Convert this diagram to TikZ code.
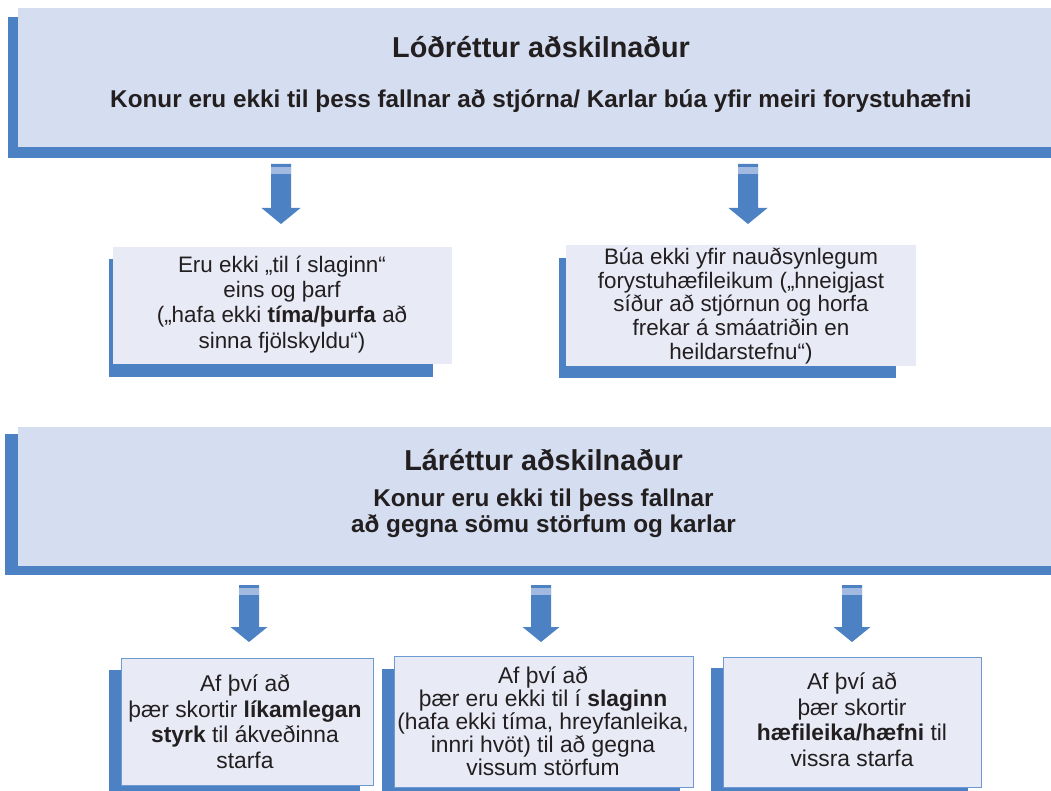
\documentclass[tikz,border=0pt]{standalone}
\usepackage{fontspec}
\setmainfont{Liberation Sans}
\definecolor{shblue}{HTML}{4C82C4}
\definecolor{bigfill}{HTML}{D5DEF0}
\definecolor{smfill}{HTML}{E8EAF6}
\definecolor{edgeblue}{HTML}{6E9AD3}
\definecolor{bandblue}{HTML}{A3BAE0}
\definecolor{ink}{HTML}{231F20}
% block arrow: x, top, head start, tip, head half width
\newcommand\bkarrow[5]{%
  \fill[shblue] (#1-10,#2) -- (#1+10,#2) -- (#1+10,#3) -- (#1+#5,#3) -- (#1,#4) -- (#1-#5,#3) -- (#1-10,#3) -- cycle;
  \fill[bandblue] (#1-10,#2+3) rectangle (#1+10,#2+10);}
\begin{document}
\begin{tikzpicture}[x=1pt,y=-1pt,
  every node/.style={inner sep=0pt,text=ink},
  shadowbox/.style={fill=shblue},
  bigbox/.style={fill=bigfill},
  midbox/.style={fill=smfill},
  lowbox/.style={fill=smfill,draw=edgeblue,line width=1pt},
  titlefont/.style={font=\bfseries\fontsize{28.8}{34}\selectfont},
  subfont/.style={font=\bfseries\fontsize{24.3}{26}\selectfont,align=center},
  bodymid/.style={font=\fontsize{22.4}{25.3}\selectfont,align=center},
  bodymidr/.style={font=\fontsize{22.4}{23.8}\selectfont,align=center},
  bodylow/.style={font=\fontsize{22.8}{25.8}\selectfont,align=center},
  bodylowb/.style={font=\fontsize{22.8}{23}\selectfont,align=center}]
\useasboundingbox (0,0) rectangle (1051,791);
\fill[white] (0,0) rectangle (1051,791);

% top box
\fill[shadowbox] (8,17) rectangle (1051,158);
\fill[bigbox] (18,8) rectangle (1051,147);
\node[titlefont,anchor=base] (t1) at (541,58) {Lóðréttur aðskilnaður};
\node[subfont,anchor=base] (s1) at (541,108) {Konur eru ekki til þess fallnar að stjórna/ Karlar búa yfir meiri forystuhæfni};

% arrows from top box
\bkarrow{281}{164}{208}{224}{19.5}
\bkarrow{748}{164}{208}{224}{19.5}

% middle boxes
\fill[shadowbox] (109,259) rectangle (433,377);
\fill[midbox] (113,247) rectangle (452,364);
\node[bodymid,anchor=north] (m1) at (282,272-22.4) {\rule{0pt}{22.4pt}Eru ekki „til í slaginn“\\eins og þarf\\(„hafa ekki \textbf{tíma/þurfa} að\\sinna fjölskyldu“)};

\fill[shadowbox] (559,258) rectangle (896,378);
\fill[midbox] (566,245) rectangle (916,366);
\node[bodymidr,anchor=north] (m2) at (741,264-22.4) {\rule{0pt}{22.4pt}Búa ekki yfir nauðsynlegum\\forystuhæfileikum („hneigjast\\síður að stjórnun og horfa\\frekar á smáatriðin en\\heildarstefnu“)};

% second big box
\fill[shadowbox] (5,434) rectangle (1051,575);
\fill[bigbox] (18,427) rectangle (1051,566);
\node[titlefont,anchor=base] (t2) at (543.5,470) {Láréttur aðskilnaður};
\node[subfont,anchor=north] (s2) at (543.5,506-24.3) {\rule{0pt}{24.3pt}Konur eru ekki til þess fallnar\\að gegna sömu störfum og karlar};

% arrows from second box
\bkarrow{249}{585}{627}{642}{18.5}
\bkarrow{541}{585}{627}{642}{18.5}
\bkarrow{852}{585}{627}{642}{18.5}

% bottom boxes
\fill[shadowbox] (109,670) rectangle (360,791);
\filldraw[lowbox] (121,658) rectangle (373,785);
\node[bodylow,anchor=north] (b1) at (245,691-22.8) {\rule{0pt}{22.8pt}Af því að\\þær skortir \textbf{líkamlegan}\\\textbf{styrk} til ákveðinna\\starfa};

\fill[shadowbox] (382,669) rectangle (680,791);
\filldraw[lowbox] (394,656) rectangle (693,787);
\node[bodylowb,anchor=north] (b2) at (543,683-22.8) {\rule{0pt}{22.8pt}Af því að\\þær eru ekki til í \textbf{slaginn}\\(hafa ekki tíma, hreyfanleika,\\innri hvöt) til að gegna\\vissum störfum};

\fill[shadowbox] (711,668) rectangle (968,791);
\filldraw[lowbox] (723,657) rectangle (981,787);
\node[bodylow,anchor=north] (b3) at (852,689-22.8) {\rule{0pt}{22.8pt}Af því að\\þær skortir\\\textbf{hæfileika/hæfni} til\\vissra starfa};
\end{tikzpicture}
\end{document}
